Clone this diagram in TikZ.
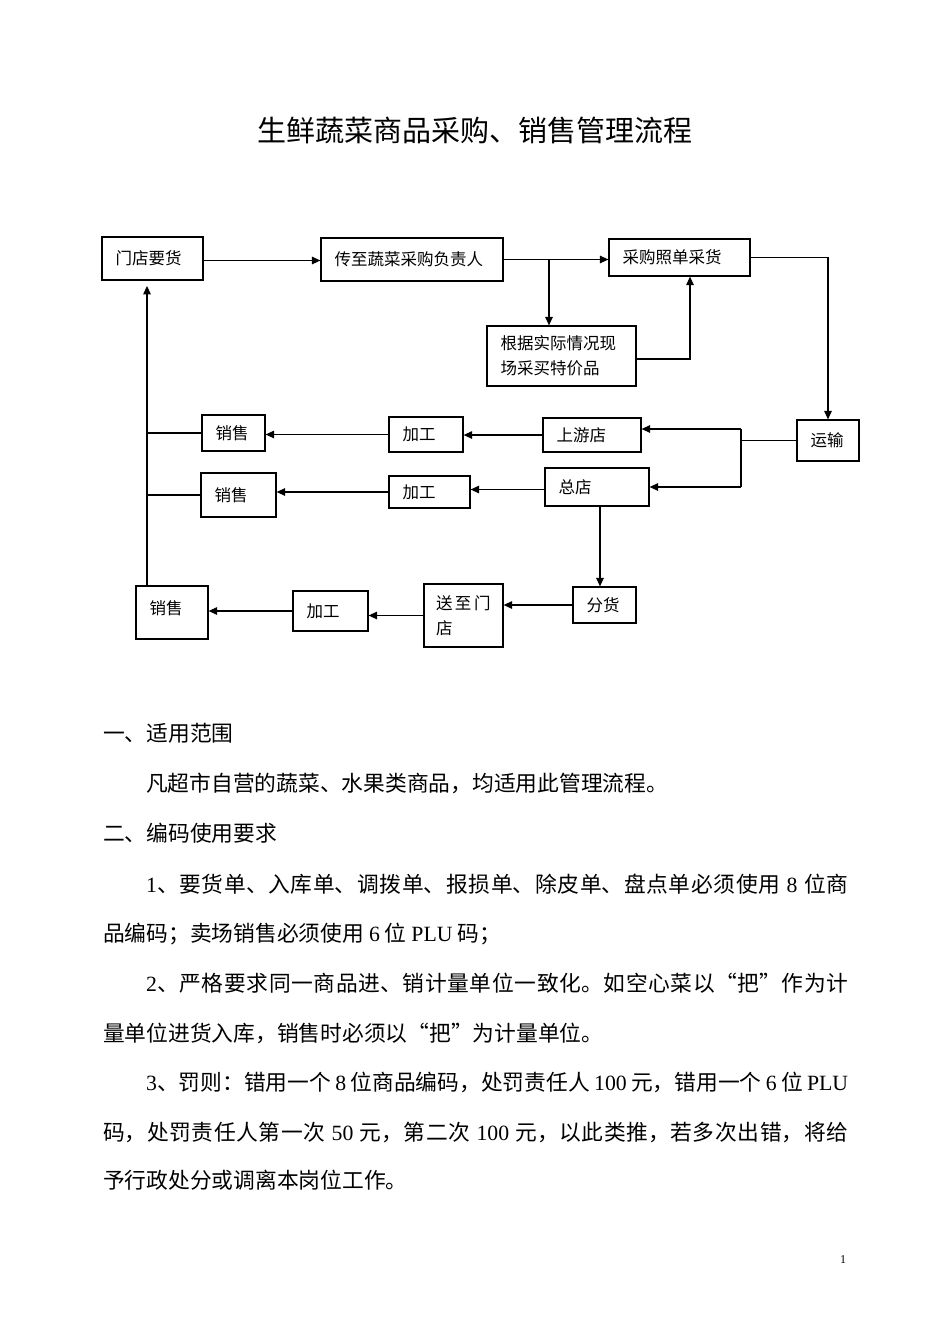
\documentclass[tikz,border=0pt]{standalone}
\usepackage{fontspec}
\setmainfont{Noto Sans CJK SC}
\newfontfamily\tnr{Liberation Serif}
\usetikzlibrary{arrows.meta}
\XeTeXlinebreaklocale "zh"
\XeTeXlinebreakskip=0pt plus 1pt
\newcommand\en[1]{{\tnr #1}}
\newcommand\jline[2]{\parbox[t]{#1}{\noindent\parfillskip=0pt #2}}
\newcommand\mybox[7][]{%
  \pgfmathsetmacro\bw{#5-#3-27}%
  \pgfmathsetmacro\bww{#5-#3}%
  \pgfmathsetmacro\bh{#6-#4}%
  \node[bx, text width=\bw pt, minimum width=\bww pt, minimum height=\bh pt, #1] (#2) at ({(#3+#5)/2},{(#4+#6)/2}) {#7};}
\tikzset{
  bx/.style={draw, line width=1.2pt, inner xsep=13.5pt, inner ysep=0pt, align=left,
    font=\fontsize{16.5}{25}\selectfont},
  arr/.style={line width=1.2pt, -{Triangle[length=8.5pt,width=7.5pt]}},
  ln/.style={line width=1.2pt},
  txt/.style={inner sep=0pt, anchor=base west, font=\fontsize{21.75}{26}\selectfont},
}
\begin{document}
\begin{tikzpicture}[x=1pt,y=-1pt]
\useasboundingbox (0,0) rectangle (950,1344);
\fill[white] (0,0) rectangle (950,1344);

\node[inner sep=0pt, font=\fontsize{29}{34}\selectfont] (title) at (474.5,130) {生鲜蔬菜商品采购、销售管理流程};

% boxes
\mybox[line width=1.8pt]{A}{102}{237}{203}{280}{门店要货}
\mybox{B}{321}{238}{503}{281}{传至蔬菜采购负责人}
\mybox{C}{609}{239}{750}{276}{采购照单采货}
\mybox{D}{487}{326}{636}{386}{根据实际情况现\\场采买特价品}
\mybox{E}{797}{420}{859}{461}{运输}
\mybox{F}{543}{418}{641}{452}{上游店}
\mybox{G}{545}{468}{649}{506}{总店}
\mybox{H1}{389}{417}{463}{452}{加工}
\mybox{S1}{202}{415}{265}{451}{销售}
\mybox{H2}{389}{476}{470}{508}{加工}
\mybox{S2}{201}{473}{276}{517}{销售}
\mybox{K}{573}{587}{636}{623}{分货}
\mybox[inner xsep=12pt, text width=55pt]{M}{424}{584}{503}{647}{送\hspace{2.5pt}至\hspace{2.5pt}门\\店}
\mybox{H3}{293}{591}{368}{631}{加工}
\mybox[text depth=10pt]{S3}{136}{586}{208}{639}{销售}

% connectors
\coordinate (j1) at (549,0);
\coordinate (v) at (147,0);
\coordinate (jt) at (741,429);
\coordinate (jb) at (741,487);

\draw[arr] ([yshift=-2pt]A.east) -- ([yshift=-2pt]A.east -| B.west);
\draw[arr] (B.east) -- (B.east -| C.west);
\draw[arr] (B.east -| j1) -- (D.north -| j1);
\draw[arr] ([yshift=-3pt]D.east) -| ([xshift=10.5pt]C.south);
\draw[arr] (C.east) -| (E.north);
\draw[ln] (E.west) -- (E.west -| jt);
\draw[ln] (jt) -- (jb);
\draw[arr] (jt) -- (jt -| F.east);
\draw[arr] (jb) -- (jb -| G.east);
\draw[arr] (F.west) -- (F.west -| H1.east);
\draw[arr] (H1.west) -- (H1.west -| S1.east);
\draw[ln] (S1.west) -- (S1.west -| v);
\draw[arr] ([yshift=-2.5pt]G.west) -- ([yshift=-2.5pt]G.west -| H2.east);
\draw[arr] (H2.west) -- (H2.west -| S2.east);
\draw[ln] (S2.west) -- (S2.west -| v);
\draw[arr, shorten >=5pt] (S3.north -| v) -- (A.south -| v);
\draw[arr] ([xshift=3pt]G.south) -- ([xshift=3pt]G.south |- K.north);
\draw[arr] (K.west) -- (K.west -| M.east);
\draw[arr] (M.west) -- (M.west -| H3.east);
\draw[arr] (H3.west) -- (H3.west -| S3.east);

% text
\node[txt] (t1) at (103,741) {一、适用范围};
\node[txt] (t2) at (146,791) {凡超市自营的蔬菜、水果类商品，均适用此管理流程。};
\node[txt] (t3) at (103,841) {二、编码使用要求};
\node[txt] (p1) at (146,892) {\jline{702pt}{\en{1}、要货单、入库单、调拨单、报损单、除皮单、盘点单必须使用 \en{8} 位商}};
\node[txt] (p2) at (103,941) {品编码；卖场销售必须使用 \en{6} 位 \en{PLU} 码；};
\node[txt] (p3) at (146,991) {\jline{702pt}{\en{2}、严格要求同一商品进、销计量单位一致化。如空心菜以“把”作为计}};
\node[txt] (p4) at (103,1041) {量单位进货入库，销售时必须以“把”为计量单位。};
\node[txt] (p5) at (146,1090) {\jline{702pt}{\en{3}、罚则：错用一个 \en{8} 位商品编码，处罚责任人 \en{100} 元，错用一个 \en{6} 位 \en{PLU}}};
\node[txt] (p6) at (103,1140) {\jline{745pt}{码，处罚责任人第一次 \en{50} 元，第二次 \en{100} 元，以此类推，若多次出错，将给}};
\node[txt] (p7) at (103,1188) {予行政处分或调离本岗位工作。};
\node[inner sep=0pt, anchor=base west, font=\tnr\fontsize{12}{14}\selectfont] (pg) at (840,1263) {1};
\end{tikzpicture}
\end{document}
